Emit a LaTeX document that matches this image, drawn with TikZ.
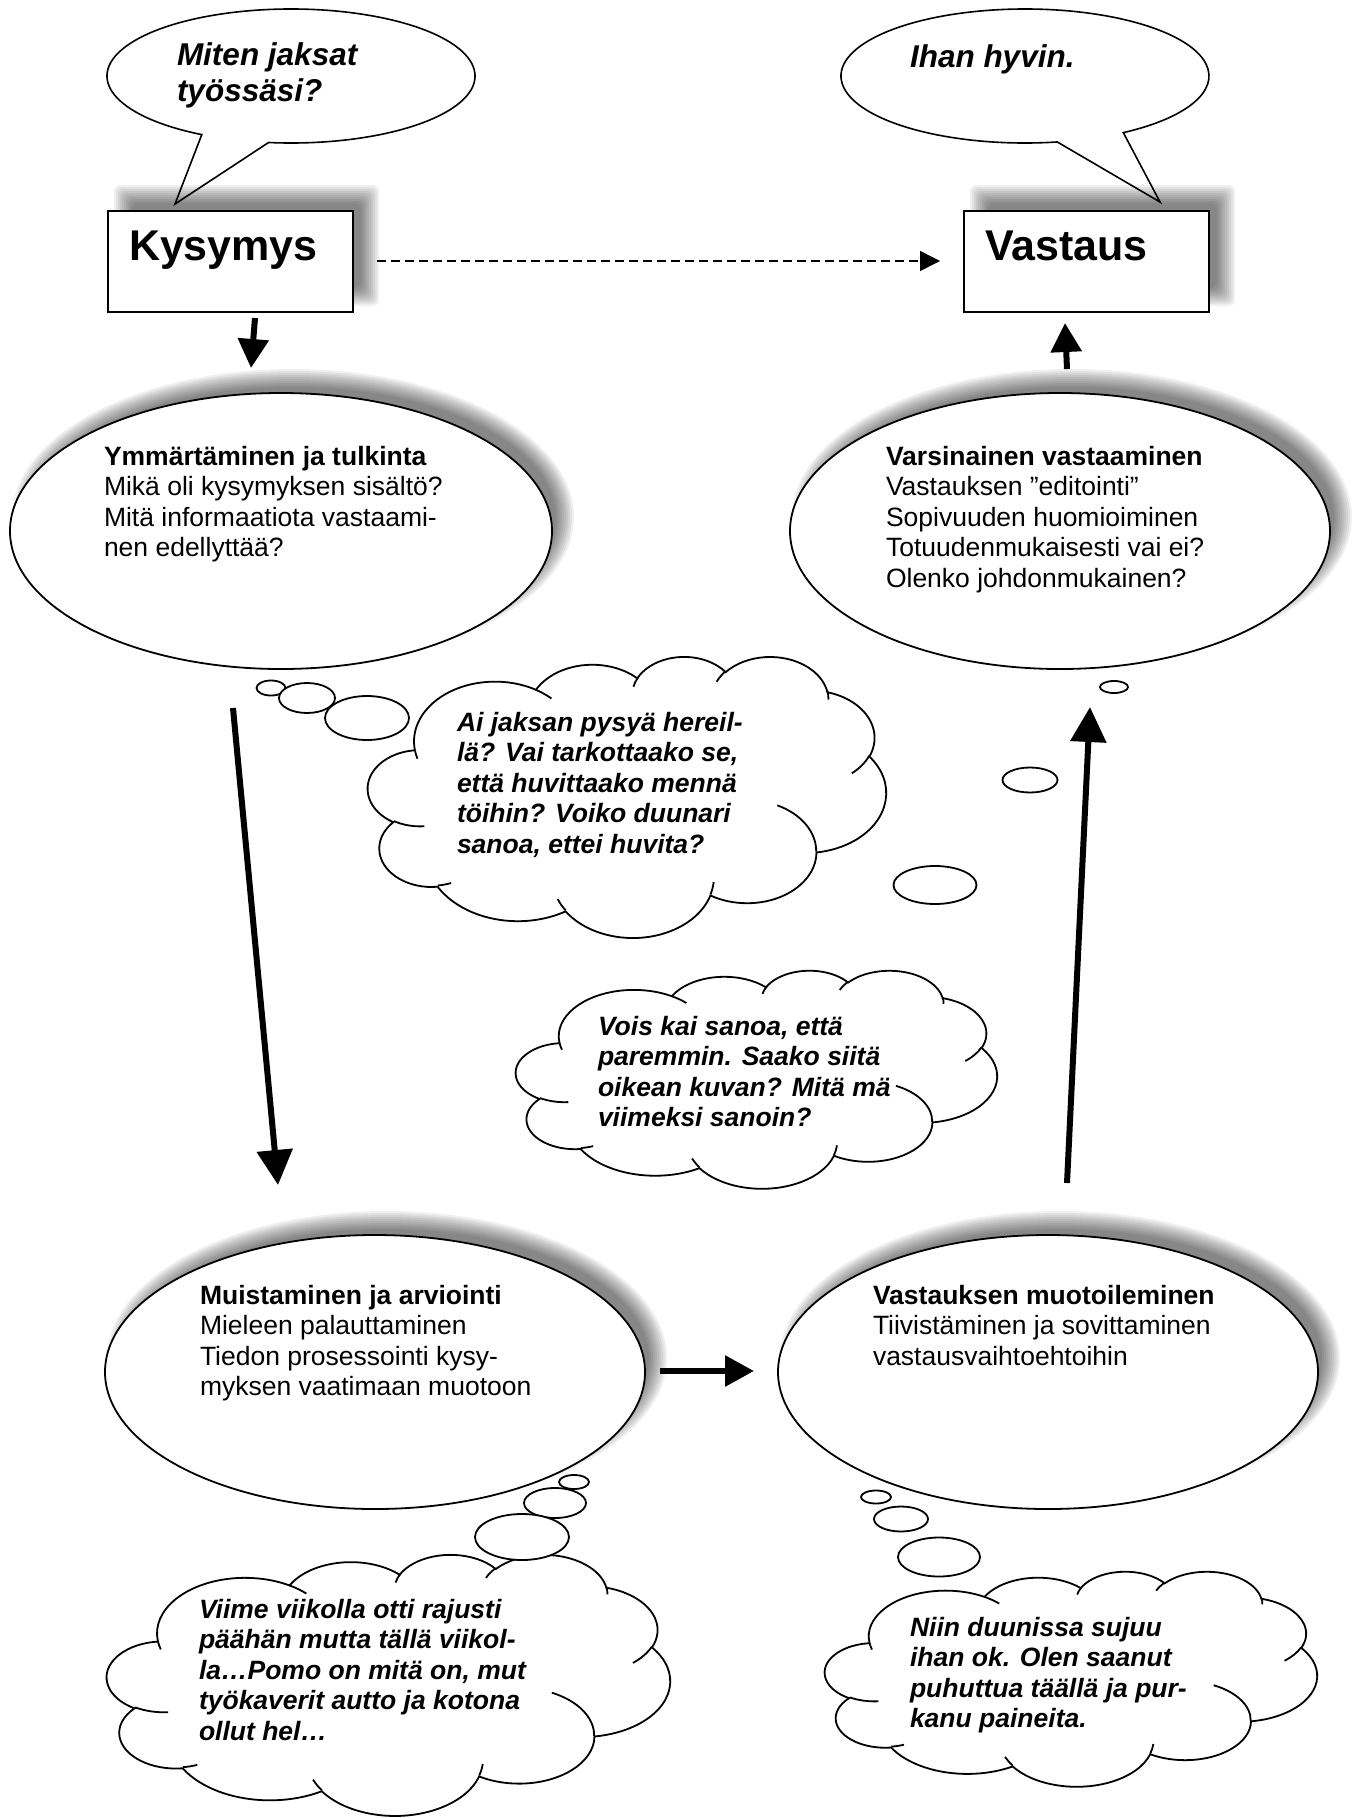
\documentclass[tikz,border=0pt]{standalone}
\usepackage{fontspec}
\setmainfont{Liberation Sans}
\usetikzlibrary{arrows.meta,shapes.geometric,calc}

% arc given with OOXML-style visual angles (degrees)
\newcommand\carc[4]{arc[x radius=#1, y radius=#2, start angle={atan2(#1*sin(#3),#2*cos(#3))}, delta angle={mod(atan2(#1*sin(#3+#4),#2*cos(#3+#4))-atan2(#1*sin(#3),#2*cos(#3))+720,360)}]}

\newcommand\wordcloud[5]{% name x0 y0 W H
  \begin{scope}[shift={(#2,#3)}, xscale={#4/432}, yscale={#5/432}]
    \filldraw[cloudline] (39.00,143.70)
      \carc{67.53}{91.90}{-190.48748}{123.78053}
      \carc{53.33}{72.67}{-144.10238}{89.94523}
      \carc{43.65}{59.45}{-145.80792}{99.72302}
      \carc{48.57}{65.95}{-130.98607}{117.24173}
      \carc{53.33}{72.73}{-78.70888}{109.02692}
      \carc{67.75}{92.20}{-46.26725}{130.269}
      \carc{57.85}{78.67}{0.62502}{114.03333}
      \carc{67.52}{92.15}{22.4516}{115.17255}
      \carc{77.20}{105.43}{66.24263}{75.71102}
      \carc{43.60}{59.18}{-274.94208}{146.73557}
      \carc{43.45}{59.45}{-246.8285}{152.51885}
      -- cycle;
    \draw[cloudline]
      (46.93,261.77) \carc{43.45}{59.45}{86.742}{26.4295}
      (69.28,348.99) \carc{43.60}{59.18}{73.61047}{11.44747}
      (164.78,390.90) \carc{67.52}{92.15}{137.62415}{14.0811}
      (288.27,347.51) \carc{67.52}{92.15}{6.45327}{15.99835}
      (341.29,229.54) \carc{57.85}{78.67}{-70.29235}{70.91737}
      (417.98,153.54) \carc{53.33}{72.73}{30.31803}{27.7515}
      (383.24,54.26) \carc{48.57}{65.95}{-13.74433}{14.8589}
      (290.78,39.52) \carc{48.57}{65.95}{-149.18145}{18.19537}
      (221.41,47.20) \carc{43.65}{59.45}{-163.49427}{17.68635}
      (140.00,51.92) \carc{67.53}{91.90}{-66.70695}{12.31935}
      (41.27,157.89) \carc{67.53}{91.90}{157.65435}{11.85817};
    \coordinate (#1) at (216,216);
  \end{scope}}

\newcommand\ellshadow[4]{\foreach \k in {0,...,9}{\fill[black,opacity=0.06] (#1+12,#2-14) ellipse[x radius={#3+10-2*\k}, y radius={#4+10-2*\k}];}}
\newcommand\boxshadow[4]{\foreach \k in {0,...,9}{\fill[black,opacity=0.06,rounded corners=6pt] (#1+16-10+2*\k,#2-16-10+2*\k) rectangle (#3+16+10-2*\k,#4-16+10-2*\k);}}

\begin{document}
\begin{tikzpicture}[x=1pt,y=1pt,yscale=-1,
  every node/.style={inner sep=0pt, outer sep=0pt},
  body/.style={font=\fontsize{26.5}{30.5}\selectfont, anchor=base west},
  think/.style={font=\fontsize{26.5}{30.5}\selectfont\bfseries\itshape, anchor=base west},
  say/.style={font=\fontsize{31.5}{36.2}\selectfont\bfseries\itshape, anchor=base west},
  headtxt/.style={font=\fontsize{43}{50}\selectfont\bfseries, anchor=base west},
  outl/.style={draw=black, line width=1.8pt, fill=white},
  cloudline/.style={draw=black, line width=1.8pt, fill=white},
  bigell/.style={ellipse, outl},
  puff/.style={ellipse, outl},
  boxnode/.style={rectangle, outl, anchor=north west},
  bigarrow/.style={line width=6pt, -{Triangle[length=35pt,width=35pt]}},
  smallarrow/.style={line width=6pt, -{Triangle[length=29pt,width=30pt]}},
  dasharrow/.style={line width=1.5pt, dash pattern=on 9pt off 5pt, -{Triangle[length=20pt,width=20pt]}}]

\fill[white] (0,0) rectangle (1353,1818);
\useasboundingbox (0,0) rectangle (1353,1818);

% speech bubbles
\coordinate (lbc) at (291,76);
\coordinate (lbt) at (175,204);
\filldraw[outl, line width=1.6pt] ($(lbc)+(119:184 and 67)$) arc[start angle=119, end angle=457, x radius=184, y radius=67] -- (lbt) -- cycle;
\coordinate (rbc) at (1025,76);
\coordinate (rbt) at (1160,202);
\filldraw[outl, line width=1.6pt] ($(rbc)+(79.9:184 and 67)$) arc[start angle=79.9, end angle=417.7, x radius=184, y radius=67] -- (rbt) -- cycle;
\node[say] (s1) at (177,65) {\parbox[t]{300pt}{Miten jaksat\\työssäsi?}};
\node[say] (s2) at (910,67) {Ihan hyvin.};

% boxes
\boxshadow{108}{211}{353}{312}
\boxshadow{964}{211}{1209}{312}
\node[boxnode, minimum width=245pt, minimum height=101pt] (kys) at (108,211) {};
\node[boxnode, minimum width=245pt, minimum height=101pt] (vas) at (964,211) {};
\node[headtxt] (h1) at (129,260) {Kysymys};
\node[headtxt] (h2) at (985,260) {Vastaus};

% big ellipses
\ellshadow{281}{531}{271}{138}
\ellshadow{1060}{531}{270}{138}
\ellshadow{375}{1372}{270}{137}
\ellshadow{1048}{1372}{270}{137}
\node[bigell, minimum width=542pt, minimum height=276pt] (e1) at (281,531) {};
\node[bigell, minimum width=540pt, minimum height=276pt] (e2) at (1060,531) {};
\node[bigell, minimum width=540pt, minimum height=274pt] (e3) at (375,1372) {};
\node[bigell, minimum width=540pt, minimum height=274pt] (e4) at (1048,1372) {};

\node[body] (t1) at (104,465) {\parbox[t]{500pt}{\textbf{Ymmärtäminen ja tulkinta}\\Mikä oli kysymyksen sisältö?\\Mitä informaatiota vastaami-\\nen edellyttää?}};
\node[body] (t2) at (886,465) {\parbox[t]{500pt}{\textbf{Varsinainen vastaaminen}\\Vastauksen ”editointi”\\Sopivuuden huomioiminen\\Totuudenmukaisesti vai ei?\\Olenko johdonmukainen?}};
\node[body] (t3) at (200,1304) {\parbox[t]{500pt}{\textbf{Muistaminen ja arviointi}\\Mieleen palauttaminen\\Tiedon prosessointi kysy-\\myksen vaatimaan muotoon}};
\node[body] (t4) at (873,1304) {\parbox[t]{500pt}{\textbf{Vastauksen muotoileminen}\\Tiivistäminen ja sovittaminen\\vastausvaihtoehtoihin}};

% clouds
\wordcloud{c1}{368}{656}{518}{281}
\wordcloud{c2}{516}{970}{481}{218}
\wordcloud{c3}{107}{1554}{563}{261}
\wordcloud{c4}{825}{1571}{492}{215}

% thought puffs
\node[puff, minimum width=29pt, minimum height=15pt] (p11) at (271,688) {};
\node[puff, minimum width=56pt, minimum height=30pt] (p12) at (307,698) {};
\node[puff, minimum width=84pt, minimum height=44pt] (p13) at (367,718) {};
\node[puff, minimum width=28pt, minimum height=12pt] (p21) at (1114,687) {};
\node[puff, minimum width=55pt, minimum height=25pt] (p22) at (1030,780) {};
\node[puff, minimum width=83pt, minimum height=38pt] (p23) at (935,885) {};
\node[puff, minimum width=30pt, minimum height=14pt] (p31) at (574,1482) {};
\node[puff, minimum width=62pt, minimum height=30pt] (p32) at (555,1503) {};
\node[puff, minimum width=94pt, minimum height=46pt] (p33) at (522,1537) {};
\node[puff, minimum width=30pt, minimum height=13pt] (p41) at (876,1497) {};
\node[puff, minimum width=54pt, minimum height=25pt] (p42) at (901,1519) {};
\node[puff, minimum width=82pt, minimum height=39pt] (p43) at (939,1557) {};

\node[think] (ct1) at (457,731) {\parbox[t]{500pt}{Ai jaksan pysyä hereil-\\lä? Vai tarkottaako se,\\että huvittaako mennä\\töihin? Voiko duunari\\sanoa, ettei huvita?}};
\node[think] (ct2) at (598,1035) {\parbox[t]{500pt}{Vois kai sanoa, että\\paremmin. Saako siitä\\oikean kuvan? Mitä mä\\viimeksi sanoin?}};
\node[think] (ct3) at (199,1618) {\parbox[t]{500pt}{Viime viikolla otti rajusti\\päähän mutta tällä viikol-\\la…Pomo on mitä on, mut\\työkaverit autto ja kotona\\ollut hel…}};
\node[think] (ct4) at (910,1636) {\parbox[t]{500pt}{Niin duunissa sujuu\\ihan ok. Olen saanut\\puhuttua täällä ja pur-\\kanu paineita.}};

% arrows
\coordinate (a1s) at (255,318);  \coordinate (a1e) at (251,368);
\coordinate (a2s) at (233,708);  \coordinate (a2e) at (278,1185);
\coordinate (a3s) at (660,1371); \coordinate (a3e) at (754,1371);
\coordinate (a4s) at (1067,1183); \coordinate (a4e) at (1090,707);
\coordinate (a5s) at (1067,369); \coordinate (a5e) at (1065,323);
\coordinate (a6s) at (377,261);  \coordinate (a6e) at (940,261);
\draw[smallarrow] (a1s) -- (a1e);
\draw[bigarrow] (a2s) -- (a2e);
\draw[smallarrow] (a3s) -- (a3e);
\draw[bigarrow] (a4s) -- (a4e);
\draw[smallarrow] (a5s) -- (a5e);
\draw[dasharrow] (a6s) -- (a6e);
\end{tikzpicture}
\end{document}
